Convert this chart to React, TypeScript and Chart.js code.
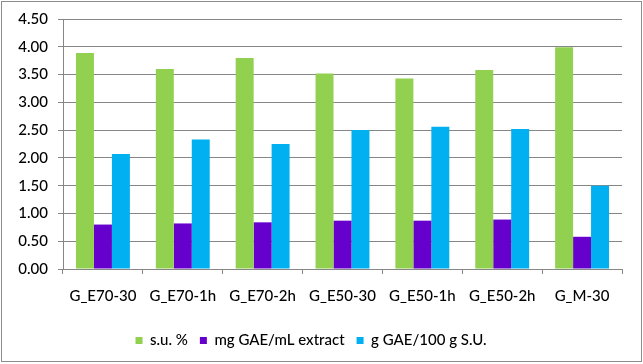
import React, { useEffect, useRef } from "react";
import { Chart, registerables } from "chart.js";

Chart.register(...registerables);

const categories = ["G_E70-30", "G_E70-1h", "G_E70-2h", "G_E50-30", "G_E50-1h", "G_E50-2h", "G_M-30"];
const suPercent = [3.89, 3.6, 3.8, 3.52, 3.43, 3.58, 3.99];
const mgGaePerMl = [0.8, 0.82, 0.84, 0.87, 0.87, 0.89, 0.58];
const gGaePer100gSU = [2.07, 2.33, 2.25, 2.5, 2.56, 2.52, 1.5];
const seriesNames = ["s.u. %", "mg GAE/mL extract", "g GAE/100 g S.U."];
const yMin = 0;
const yMax = 4.5;
const yStep = 0.5;

const FONT = "Lato, 'Open Sans', sans-serif";
const GRID = "#868686";

export default function App() {
  const ref = useRef<HTMLCanvasElement | null>(null);

  useEffect(() => {
    document.body.style.margin = "0";
    const ctx = ref.current;
    if (!ctx) return;
    const chart = new Chart(ctx, {
      type: "bar",
      data: {
        labels: categories,
        datasets: [
          { label: seriesNames[0], data: suPercent, backgroundColor: "#92D050" },
          { label: seriesNames[1], data: mgGaePerMl, backgroundColor: "#6600CC" },
          { label: seriesNames[2], data: gGaePer100gSU, backgroundColor: "#00B0F0" },
        ],
      },
      options: {
        animation: false,
        responsive: false,
        maintainAspectRatio: false,
        layout: { padding: { top: 19, right: 21, left: 0, bottom: 6 } },
        datasets: { bar: { categoryPercentage: 0.675, barPercentage: 1 } },
        plugins: {
          tooltip: { enabled: false },
          legend: {
            position: "bottom",
            labels: {
              boxWidth: 7,
              boxHeight: 7,
              padding: 12,
              color: "#000",
              font: { family: FONT, size: 15, weight: "500" },
            },
          },
        },
        scales: {
          x: {
            afterFit: (s: any) => {
              s.height = 52;
            },
            grid: {
              display: true,
              drawOnChartArea: false,
              offset: true,
              tickLength: 5,
              color: GRID,
            },
            border: { color: GRID },
            ticks: {
              color: "#000",
              padding: 13,
              font: { family: FONT, size: 15, weight: "500" },
              maxRotation: 0,
              autoSkip: false,
            },
          },
          y: {
            min: yMin,
            max: yMax,
            afterFit: (s: any) => {
              s.width = 63;
            },
            grid: { color: GRID, tickLength: 5 },
            border: { color: GRID },
            ticks: {
              stepSize: yStep,
              color: "#000",
              padding: 10,
              font: { family: FONT, size: 15, weight: "500" },
              callback: (v: any) => Number(v).toFixed(2),
            },
          },
        },
      },
    });
    return () => chart.destroy();
  }, []);

  return (
    <div style={{ position: "absolute", left: 0, top: 0, width: 643, height: 364, background: "#fff" }}>
      <canvas ref={ref} width={643} height={364} style={{ position: "absolute", left: 0, top: 0 }} />
      <div
        style={{
          position: "absolute",
          left: 1,
          top: 1,
          width: 641,
          height: 361,
          boxSizing: "border-box",
          border: "1px solid #8c8c8c",
          pointerEvents: "none",
        }}
      />
    </div>
  );
}
